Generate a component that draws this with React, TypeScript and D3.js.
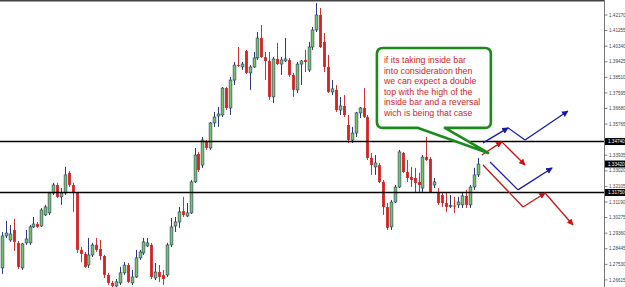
import React from "react";
import * as d3 from "d3";

const opens = [1.2732,1.2920,1.2896,1.2955,1.2879,1.2732,1.2879,1.2879,1.2973,1.2990,1.2978,1.3043,1.3055,1.3172,1.3219,1.3149,1.3172,1.3290,1.3219,1.3172,1.2838,1.2814,1.2749,1.2808,1.2867,1.2843,1.2802,1.2691,1.2644,1.2626,1.2644,1.2703,1.2749,1.2644,1.2679,1.2791,1.2820,1.2861,1.2867,1.2673,1.2708,1.2691,1.2691,1.2867,1.2978,1.3002,1.3066,1.3037,1.3055,1.3237,1.3401,1.3336,1.3472,1.3436,1.3583,1.3624,1.3630,1.3788,1.3671,1.3835,1.3923,1.3912,1.4006,1.3877,1.3912,1.3965,1.4082,1.3970,1.3947,1.3736,1.3959,1.3929,1.3947,1.3953,1.3865,1.3777,1.3929,1.3953,1.3894,1.4029,1.4129,1.4217,1.4059,1.3912,1.3765,1.3777,1.3659,1.3683,1.3571,1.3483,1.3524,1.3642,1.3671,1.3618,1.3378,1.3325,1.3336,1.3237,1.3090,1.2973,1.3119,1.3207,1.3407,1.3295,1.3266,1.3260,1.3237,1.3201,1.3383,1.3372,1.3219,1.3178,1.3160,1.3113,1.3096,1.3098,1.3102,1.3102,1.3155,1.3102,1.3207,1.3278];
const highs = [1.2943,1.3008,1.2984,1.3020,1.2890,1.2879,1.2955,1.2984,1.3031,1.3002,1.3084,1.3102,1.3178,1.3231,1.3231,1.3201,1.3325,1.3301,1.3231,1.3178,1.2855,1.2826,1.2908,1.2879,1.2908,1.2896,1.2808,1.2703,1.2656,1.2667,1.2738,1.2767,1.2761,1.2720,1.2838,1.2838,1.2908,1.2908,1.2879,1.2761,1.2749,1.2720,1.2879,1.3025,1.3031,1.3090,1.3149,1.3113,1.3248,1.3436,1.3413,1.3501,1.3483,1.3589,1.3648,1.3677,1.3794,1.3794,1.3853,1.3941,1.4029,1.3941,1.4012,1.3923,1.4000,1.4117,1.4158,1.4000,1.4000,1.3970,1.4053,1.3970,1.4082,1.3965,1.3877,1.3941,1.3953,1.4012,1.4059,1.4147,1.4287,1.4258,1.4111,1.3982,1.3835,1.3806,1.3736,1.3747,1.3630,1.3560,1.3648,1.3677,1.3788,1.3630,1.3407,1.3395,1.3348,1.3248,1.3113,1.3131,1.3219,1.3425,1.3413,1.3366,1.3325,1.3319,1.3290,1.3395,1.3501,1.3383,1.3260,1.3201,1.3178,1.3172,1.3160,1.3149,1.3149,1.3172,1.3190,1.3219,1.3319,1.3378];
const lows = [1.2697,1.2908,1.2885,1.2832,1.2726,1.2720,1.2867,1.2867,1.2967,1.2967,1.2973,1.3037,1.3043,1.3160,1.3143,1.3102,1.3160,1.3207,1.3061,1.2820,1.2767,1.2732,1.2732,1.2796,1.2826,1.2779,1.2673,1.2632,1.2620,1.2620,1.2632,1.2691,1.2644,1.2632,1.2673,1.2779,1.2808,1.2855,1.2667,1.2661,1.2650,1.2632,1.2679,1.2855,1.2943,1.2967,1.3031,1.3031,1.3049,1.3231,1.3295,1.3319,1.3425,1.3425,1.3560,1.3560,1.3618,1.3659,1.3630,1.3806,1.3912,1.3894,1.3871,1.3777,1.3906,1.3953,1.3965,1.3835,1.3718,1.3700,1.3923,1.3865,1.3941,1.3853,1.3736,1.3759,1.3806,1.3882,1.3882,1.4012,1.4117,1.4023,1.3882,1.3759,1.3747,1.3648,1.3630,1.3618,1.3466,1.3466,1.3501,1.3612,1.3612,1.3366,1.3278,1.3278,1.3231,1.3043,1.2955,1.2955,1.3113,1.3201,1.3290,1.3237,1.3207,1.3172,1.3172,1.3172,1.3360,1.3172,1.3201,1.3102,1.3090,1.3061,1.3084,1.3055,1.3084,1.3084,1.3084,1.3084,1.3190,1.3266];
const closes = [1.2920,1.2937,1.2931,1.2885,1.2738,1.2873,1.2902,1.2973,1.2990,1.2973,1.3072,1.3090,1.3172,1.3219,1.3149,1.3172,1.3278,1.3219,1.3172,1.2838,1.2814,1.2738,1.2808,1.2867,1.2838,1.2802,1.2691,1.2644,1.2626,1.2650,1.2703,1.2749,1.2650,1.2679,1.2791,1.2826,1.2885,1.2879,1.2679,1.2708,1.2679,1.2667,1.2867,1.2973,1.3002,1.3061,1.3043,1.3055,1.3237,1.3395,1.3307,1.3483,1.3436,1.3583,1.3618,1.3636,1.3788,1.3671,1.3835,1.3923,1.3918,1.3929,1.3877,1.3912,1.3965,1.4082,1.3970,1.3947,1.3736,1.3959,1.3929,1.3953,1.3959,1.3865,1.3777,1.3929,1.3947,1.3941,1.4029,1.4129,1.4217,1.4029,1.3912,1.3765,1.3783,1.3659,1.3683,1.3630,1.3483,1.3524,1.3642,1.3671,1.3618,1.3378,1.3336,1.3348,1.3237,1.3090,1.2967,1.3119,1.3207,1.3413,1.3295,1.3260,1.3248,1.3231,1.3219,1.3383,1.3366,1.3178,1.3237,1.3113,1.3113,1.3090,1.3098,1.3096,1.3119,1.3155,1.3102,1.3207,1.3278,1.3342];

const tickLabels = ["1.42170","1.41255","1.40340","1.39425","1.38510","1.37595","1.36680","1.35765","1.34850","1.33935","1.33020","1.32105","1.31190","1.30275","1.29360","1.28445","1.27530","1.26615"];
const levelPrices = [1.3474, 1.3175];
const levelLabels = ["1.34740", "1.31750"];
const lastPrice = 1.3342;
const lastLabel = "1.33420";

// scenario arrows: [bar index, price]
const blueUp = [[122.4,1.3466],[128.8,1.3554],[133.1,1.3483],[144.0,1.3653]];
const blueUpHeads = [false, true, false, true];
const redDown = [[122.1,1.3395],[127.2,1.3472],[133.1,1.3336]];
const redDownHeads = [false, true, true];
const blueBounce = [[124.2,1.3354],[131.3,1.3190],[140.0,1.3319]];
const blueBounceHeads = [false, false, true];
const redBreak = [[122.4,1.3336],[132.6,1.3090],[138.2,1.3172],[145.3,1.2984]];
const redBreakHeads = [false, false, true, true];

const noteLines = [
  "if its taking inside bar",
  "into consideration then",
  "we can expect a double",
  "top with the high of the",
  "inside bar and a reversal",
  "wich is being that case",
];
const noteBox = { i0: 95.4, i1: 124.4, pTop: 1.4023, pBot: 1.3554, tailI0: 105.9, tailI1: 112.7, tipI: 123.7, tipP: 1.3407 };

const W = 625, H = 287;
const AXIS_X = 604.5;

export default function App() {
  const x = d3.scaleLinear().domain([0, 121]).range([2, 477.5]);
  const y = d3.scaleLinear().domain([1.2620, 1.4305]).range([287, 0]);
  const bodyW = 2.8;

  const boxes: [number, string][] = [...levelPrices.map((p, i) => [p, levelLabels[i]] as [number, string]), [lastPrice, lastLabel]];

  const candles = opens.map((o, i) => {
    const c = closes[i];
    const bull = c >= o;
    const cx = Math.round(x(i)) + 0.5;
    const top = y(Math.max(o, c));
    const h = Math.max(1, Math.abs(y(o) - y(c)));
    return (
      <g key={i}>
        <line x1={cx} x2={cx} y1={y(highs[i])} y2={y(lows[i])} stroke={bull ? "#2a3a7a" : "#cc3030"} strokeWidth={1} />
        <rect x={cx - bodyW / 2} y={top} width={bodyW} height={h}
          fill={bull ? "#78c464" : "#d42222"} stroke={bull ? "#2a3a6a" : "none"} strokeWidth={bull ? 0.6 : 0} />
      </g>
    );
  });

  const arrowSegs = (pts: number[][], heads: boolean[], color: string, id: string) =>
    pts.slice(1).map((p, k) => (
      <line key={id + color + k + pts[0][0]} x1={x(pts[k][0])} y1={y(pts[k][1])} x2={x(p[0])} y2={y(p[1])}
        stroke={color} strokeWidth={1.3} markerEnd={heads[k + 1] ? `url(#${id})` : undefined} />
    ));

  const bx0 = x(noteBox.i0), bx1 = x(noteBox.i1), by0 = y(noteBox.pTop), by1 = y(noteBox.pBot);
  const r = 6;
  const t0 = x(noteBox.tailI0), t1 = x(noteBox.tailI1), tx = x(noteBox.tipI), ty = y(noteBox.tipP);
  const boxPath = `M${bx0 + r},${by0} H${bx1 - r} Q${bx1},${by0} ${bx1},${by0 + r} V${by1 - r} Q${bx1},${by1} ${bx1 - r},${by1} H${t1} L${tx},${ty} L${t0},${by1} H${bx0 + r} Q${bx0},${by1} ${bx0},${by1 - r} V${by0 + r} Q${bx0},${by0} ${bx0 + r},${by0} Z`;

  return (
    <svg width={W} height={H} style={{ position: "absolute", left: 0, top: 0, background: "#fff" }}
      fontFamily="'Liberation Sans', Arial, sans-serif">
      <defs>
        <marker id="hb" viewBox="0 0 10 10" refX="9" refY="5" markerWidth="5" markerHeight="5" orient="auto">
          <path d="M0,0 L10,5 L0,10 Z" fill="#1a1aa0" />
        </marker>
        <marker id="hr" viewBox="0 0 10 10" refX="9" refY="5" markerWidth="5" markerHeight="5" orient="auto">
          <path d="M0,0 L10,5 L0,10 Z" fill="#c81414" />
        </marker>
      </defs>
      <rect x={0} y={0} width={W} height={H} fill="#fff" />
      {candles}
      {levelPrices.map((p, i) => (
        <line key={"lv" + i} x1={0} x2={AXIS_X} y1={y(p)} y2={y(p)} stroke="#000" strokeWidth={1.4} />
      ))}
      {arrowSegs(blueUp, blueUpHeads, "#1a1aa0", "hb")}
      {arrowSegs(redDown, redDownHeads, "#c81414", "hr")}
      {arrowSegs(blueBounce, blueBounceHeads, "#1a1aa0", "hb")}
      {arrowSegs(redBreak, redBreakHeads, "#c81414", "hr")}
      <path d={boxPath} fill="#fff" stroke="#1e8a1e" strokeWidth={2.6} strokeLinejoin="round" />
      {noteLines.map((t, i) => (
        <text key={"n" + i} x={bx0 + 7} y={by0 + 15 + i * 10.5} fontSize={8.8} fill="#cc1f1f">{t}</text>
      ))}
      <line x1={0} x2={AXIS_X} y1={0.75} y2={0.75} stroke="#444" strokeWidth={1.5} />
      <line x1={AXIS_X} x2={AXIS_X} y1={0} y2={H} stroke="#777" strokeWidth={1} />
      {tickLabels.map((t, i) => {
        const yy = y(+t);
        const hidden = boxes.some(([p]) => Math.abs(y(p) - yy) < 6);
        return (
          <g key={"t" + i}>
            <line x1={AXIS_X} x2={AXIS_X + 3} y1={yy} y2={yy} stroke="#666" strokeWidth={0.8} />
            {!hidden && <text x={609} y={yy} dy="0.35em" fontSize={4.6} fill="#444">{t}</text>}
          </g>
        );
      })}
      {boxes.map(([p, l], i) => (
        <g key={"b" + i}>
          <rect x={AXIS_X + 0.5} y={y(p) - 3.5} width={W - AXIS_X} height={7} fill="#000" />
          <text x={608} y={y(p)} dy="0.35em" fontSize={4.6} fill="#fff">{l}</text>
        </g>
      ))}
    </svg>
  );
}
